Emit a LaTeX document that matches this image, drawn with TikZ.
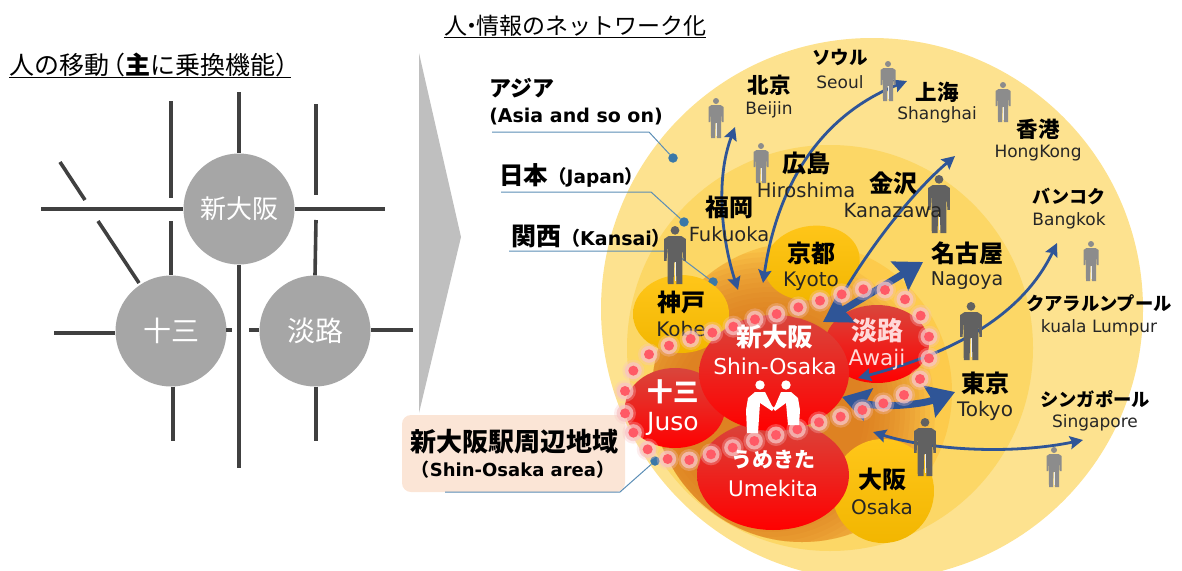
\documentclass[tikz,border=0pt]{standalone}
\usepackage{fontspec}
\setmainfont{DejaVu Sans}
\newfontfamily\jp{Noto Sans CJK JP}
\usetikzlibrary{arrows.meta,shapes.geometric,fadings}
\definecolor{asiaring}{HTML}{FDE28F}
\definecolor{japanring}{HTML}{FCD766}
\definecolor{kansairing}{HTML}{FDCB4C}
\definecolor{glowcore}{HTML}{D9701A}
\definecolor{netblue}{HTML}{2F5597}
\definecolor{leaderblue}{HTML}{5B8DB5}
\definecolor{dotblue}{HTML}{3A78A8}
\definecolor{railgray}{HTML}{404040}
\definecolor{stopgray}{HTML}{A6A6A6}
\definecolor{areabox}{HTML}{FBE5D6}
\definecolor{beadred}{HTML}{FF5A66}
\definecolor{beadpink}{HTML}{F8C4C4}
\definecolor{goldtop}{HTML}{FFC61A}
\definecolor{goldbottom}{HTML}{F2B600}
\definecolor{redtop}{HTML}{D9463C}
\tikzfading[name=softedge,inner color=transparent!45,outer color=transparent!100]
\tikzset{
  rail/.style={draw=railgray,line width=3.6pt},
  stopnode/.style={circle,fill=stopgray,inner sep=0pt,minimum size=111pt,text=white},
  leader/.style={draw=leaderblue,line width=1pt},
  leaderdot/.style={circle,fill=dotblue,inner sep=0pt,minimum size=9.5pt},
  netarrow/.style={draw=netblue,line width=2.8pt,arrows={Stealth[length=13pt,width=13pt,inset=2pt]-Stealth[length=13pt,width=13pt,inset=2pt]}},
  uparrow/.style={draw=netblue,line width=2.8pt,arrows={-Stealth[length=13pt,width=13pt,inset=2pt]}},
  fatarrow/.style={draw=netblue,line width=7pt,arrows={Stealth[length=27pt,width=33pt,inset=3pt]-Stealth[length=27pt,width=33pt,inset=3pt]}},
  goldnode/.style={ellipse,inner sep=0pt,top color=goldtop,bottom color=goldbottom},
  rednode/.style={ellipse,inner sep=0pt,top color=redtop,bottom color=red},
  namejp/.style={font=\jp\bfseries\fontsize{#1}{#1}\selectfont,text=black,inner sep=0pt},
  nameen/.style={font=\fontsize{#1}{#1}\selectfont,text=black!85,inner sep=0pt},
  boldlabel/.style={inner sep=0pt,font=\bfseries\fontsize{#1}{#1}\selectfont},
  bead/.style={circle,fill=beadred,inner sep=0pt,minimum size=10pt},
  person/.pic={
    \path[pic actions] (0,3) circle (3);
    \path[pic actions] (-4.5,7) -- (4.5,7) -- (7.5,9) -- (7.5,24) -- (5.8,24) -- (5.2,13) -- (5,40) -- (1,40) -- (0.6,25) -- (-0.6,25) -- (-1,40) -- (-5,40) -- (-5.2,13) -- (-5.8,24) -- (-7.5,24) -- (-7.5,9) -- cycle;
    \draw[white!85!gray,line width=0.8pt] (0,25) -- (0,38);
  }
}
\begin{document}
\begin{tikzpicture}[x=1pt,y=-1pt]
\useasboundingbox (0,0) rectangle (1182,570);
%left side
\node[anchor=west,inner sep=0pt,font=\jp\fontsize{25}{26}\selectfont,text height=22pt,text depth=2.5pt] (lefttitle) at (9,65) {人の移動\kern-9pt（{\bfseries 主}に乗換機能）\kern-9pt};
\draw[line width=1.2pt] (lefttitle.south west) -- (lefttitle.south east);
\node[stopnode,font=\jp\fontsize{26}{26}\selectfont] (shin) at (239,209) {新大阪};
\node[stopnode,font=\jp\fontsize{28}{28}\selectfont] (juu) at (171,331) {十三};
\node[stopnode,font=\jp\fontsize{28}{28}\selectfont] (awa) at (315,331) {淡路};
\foreach\n/\x/\y in {a1/171/101,a2/171/198,b1/239/92,c1/316/104,c2/316/195,d1/60/162,d2/85/200,
  e1/41/209,f1/385/209,g1/171/221,h1/316/220,i1/239/468,j1/98/221,j2/139/283,k1/54/333,
  l1/226/330,l2/232/330,m1/249/330,n1/413/330,o1/173/441,p1/316/441} {
  \coordinate (\n) at (\x,\y);
}
\foreach\a/\b in {a1/a2,c1/c2,d1/d2,j1/j2,l1/l2} {
  \draw[rail] (\a) -- (\b);
}
\draw[rail] (b1) -- (shin.north);
\draw[rail] (e1) -- (shin.west);
\draw[rail] (shin.east) -- (f1);
\draw[rail] (g1) -- (juu.north);
\draw[rail] (h1) -- (awa.north);
\draw[rail] (shin.south) -- (i1);
\draw[rail] (k1) -- (juu.west |- k1);
\draw[rail] (m1) -- (awa.west |- m1);
\draw[rail] (awa.east |- n1) -- (n1);
\draw[rail] (juu.south -| o1) -- (o1);
\draw[rail] (awa.south -| p1) -- (p1);
\fill[black!25] (419,53) -- (461,237) -- (419,413) -- cycle;
%rings
\fill[beadpink,path fading=softedge] (645,415) circle (32);
\fill[asiaring] (872,309) circle (271);
\fill[japanring] (830,348) circle (203);
\fill[kansairing] (802,392) circle (150);
\begin{scope}
\clip (802,392) circle (150);
\foreach\r in {95,100,...,165} {
  \fill[glowcore,opacity=0.09] (770,412) circle (\r);
}
\end{scope}
%right title
\node[anchor=west,inner sep=0pt,font=\jp\fontsize{23}{24}\selectfont,text height=22pt,text depth=2.5pt] (righttitle) at (444,25.2) {人\kern-7pt・\kern-7pt 情報のネットワーク化};
\draw[line width=1.2pt] (righttitle.south west) -- (righttitle.south east);
%leaders
\foreach\n/\xa/\ya/\xb/\yb/\xc/\yc in {asia/492/132/649/132/673/158,japan/501/192/651/192/684/222,kansai/509/251/672/251/713/282,area/445/492/620/492/655/461} {
  \coordinate (\n start) at (\xa,\ya);
  \coordinate (\n knee) at (\xb,\yb);
  \node[leaderdot] (\n dot) at (\xc,\yc) {};
}
\node[fill=areabox,rounded corners=9pt,minimum width=223pt,minimum height=77pt,inner sep=0pt] (areabox) at (513.5,453.5) {};
\foreach\n in {asia,japan,kansai,area} {
  \draw[leader] (\n start) -- (\n knee) -- (\n dot);
}
%places
\node[goldnode,minimum width=96pt,minimum height=74pt,rotate=10] (kyoto) at (812,263) {};
\node[goldnode,minimum width=96pt,minimum height=78pt] (kobe) at (681,314) {};
\node[goldnode,minimum width=102pt,minimum height=104pt] (osaka) at (883,491) {};
\node[rednode,minimum width=104pt,minimum height=78pt] (awaji) at (877,344) {};
\node[rednode,minimum width=100pt,minimum height=80pt] (juso) at (675,408) {};
\node[rednode,minimum width=152pt,minimum height=110pt] (umekita) at (773,475) {};
\node[rednode,minimum width=150pt,minimum height=116pt] (shinosaka) at (774,373) {};
%arrows
\foreach\n/\x/\y in {b/735/127,c/738/290,d/763/283,e/907/81,f/845/290,g/955/156,h/823/322,i/923/262,j/842/397,k/955/392,l/858/378,m/1057/243,n/873/432,o/1083/440} {
  \coordinate (tip\n) at (\x,\y);
}
\draw[netarrow] (tipb) .. controls (715,180) and (722,240) .. (tipc);
\draw[netarrow] (tipd) .. controls (775,200) and (810,120) .. (tipe);
\draw[uparrow] (tipf) .. controls (875,240) and (915,190) .. (tipg);
\draw[netarrow] (tipl) .. controls (945,355) and (1020,320) .. (tipm);
\draw[netarrow] (tipn) .. controls (930,450) and (1010,455) .. (tipo);
\draw[fatarrow] (tiph) -- (tipi);
\draw[fatarrow] (tipj) .. controls (880,408) and (920,405) .. (tipk);
%persons
\foreach\x/\y in {675/226,939/175,971/302,925/418} {
  \pic[fill=black!62,scale=1.45] at (\x,\y) {person};
}
\foreach\x/\y in {716/98,761/143,888/61,1003/82,1091/241,1054/447} {
  \pic[fill=black!45,scale=1] at (\x,\y) {person};
}
%labels
\foreach\n/\x/\y/\ye/\j/\e/\sj/\se in {beijing/769/85/110/北京/Beijin/21.5/17,seoul/840/57/82/ソウル/Seoul/18.5/17,shanghai/937/92/115/上海/Shanghai/21.5/17,
  hongkong/1038/129/153/香港/HongKong/21.5/17,hiroshima/806/163/190/広島/Hiroshima/24/19.5,fukuoka/729/207/234/福岡/Fukuoka/24/19.5,
  kanazawa/893/183/211/金沢/Kanazawa/24/19.5,kyotoname/811/253/281/京都/Kyoto/24/20,nagoya/967/253/281/名古屋/Nagoya/24/19,
  bangkok/1069/196/221/バンコク/Bangkok/18/17,kuala/1099/303/328/クアラルンプール/kuala Lumpur/18.3/17,tokyo/985/383/411/東京/Tokyo/24/20,
  singapore/1095/399/423/シンガポール/Singapore/18.3/17,kobename/681/302/329/神戸/Kobe/24/20,osakaname/882/479/507/大阪/Osaka/24/20} {
  \node[namejp=\sj] (\n jp) at (\x,\y) {\j};
  \node[nameen=\se] (\n en) at (\x,\ye) {\e};
}
\node[namejp=22] (asiajp) at (522,88) {アジア};
\node[boldlabel=19] (asiaen) at (576,117) {(Asia and so on)};
\node[namejp=24.5,anchor=west] (japanjp) at (499,175) {日本};
\node[boldlabel=18.5,anchor=west] (japanen) at (548,177) {{\jp（}Japan{\jp ）}};
\node[namejp=25,anchor=west] (kansaijp) at (511,236) {関西};
\node[boldlabel=19,anchor=west] (kansaien) at (561,238) {{\jp（}Kansai{\jp ）}};
\node[namejp=26] (areajp) at (514,442) {新大阪駅周辺地域};
\node[boldlabel=18] (areaen) at (513,470) {{\jp（}Shin-Osaka area{\jp ）}};
%beads
\foreach\x/\y [count=\i] in {143/688,100/638,75/580,75/513,100/452,147/403,207/377,272/357,337/338,400/320,465/298,530/282,595/262,660/242,725/223,790/208,855/210,915/238,962/287,987/350,987/415,960/477,912/525,850/550,787/570,722/590,657/607,592/628,528/645,463/663,398/683,333/703,268/720,203/717} {
  \fill[beadpink,opacity=0.3] (600+\x/3,220+\y/3) circle (11);
  \fill[beadpink,opacity=0.75] (600+\x/3,220+\y/3) circle (8.5);
  \node[bead] (bead\i) at (600+\x/3,220+\y/3) {};
}
%red labels
\foreach\n/\x/\y/\ye/\j/\e/\c/\sj/\se in {shinname/775/337/366/新大阪/Shin-Osaka/white/25.5/21.8,jusoname/673/392/424/十三/Juso/white/25.5/25,awajiname/877/331/360/淡路/Awaji/red!15!white/26/21.5,umekitaname/773/460/488/うめきた/Umekita/white/21/21.5} {
  \node[namejp=\sj,text=\c] (\n jp) at (\x,\y) {\j};
  \node[nameen=\se,text=\c] (\n en) at (\x,\ye) {\e};
}
%handshake
\fill[white] (760,385) circle (4.7);
\fill[white] (786,385) circle (4.7);
\fill[white] (755,392) -- (765,392) -- (772,406) -- (774,408) -- (772,411) -- (760,403) -- (758,433) -- (747,433) -- (746,410) -- (748,398) -- cycle;
\fill[white] (791,392) -- (781,392) -- (775,406) -- (773,408) -- (775,411) -- (786,403) -- (788,425) -- (799,425) -- (800,410) -- (798,398) -- cycle;
\end{tikzpicture}
\end{document}
